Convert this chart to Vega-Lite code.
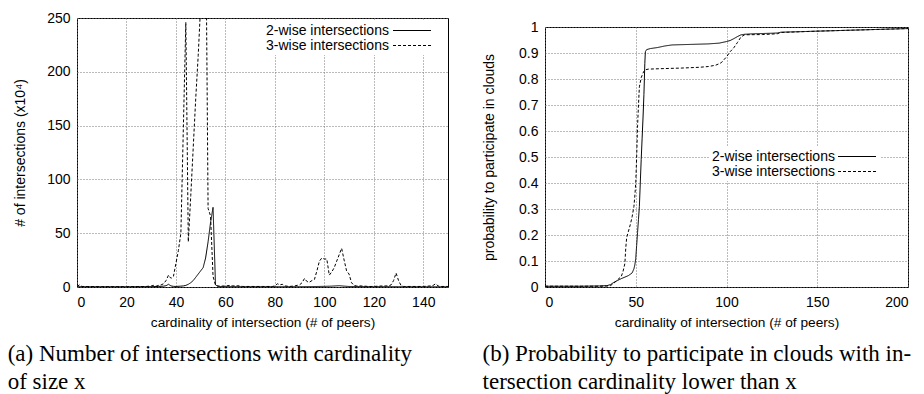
{
  "$schema": "https://vega.github.io/schema/vega-lite/v6.json",
  "background": "white",
  "padding": {"left": 7, "top": 10, "right": 0, "bottom": 0},
  "spacing": 33,
  "resolve": {"scale": {"strokeDash": "independent"}, "legend": {"strokeDash": "independent"}},
  "config": {
    "view": {"stroke": "black", "strokeWidth": 1},
    "font": "Liberation Sans",
    "axis": {
      "domain": false, "ticks": false, "tickSize": 0,
      "labelFont": "Liberation Sans", "labelFontSize": 14, "labelColor": "black",
      "titleFont": "Liberation Sans", "titleFontWeight": "normal", "titleColor": "black",
      "grid": true, "gridColor": "#777777", "gridDash": [1, 2], "gridWidth": 1, "gridOpacity": 1
    },
    "axisX": {"labelPadding": 8, "titleFontSize": 13.7, "titlePadding": 6},
    "axisY": {"labelPadding": 7, "titleFontSize": 14},
    "legend": {"title": null, "orient": "none", "labelOffset": -153.5, "symbolOffset": 138.5, "symbolSize": 196, "symbolType": "M-2.714,0H2.714", "symbolStrokeWidth": 1, "symbolStrokeColor": "black", "symbolFillColor": "transparent", "labelFontSize": 14, "labelFont": "Liberation Sans", "labelColor": "black", "fillColor": "white", "padding": 2, "rowPadding": -2, "labelLimit": 300},
    "title": {"font": "Liberation Serif", "fontSize": 23, "fontWeight": "normal", "color": "black", "lineHeight": 28}
  },
  "datasets": {
    "left": [
      {"x": 0, "v": 0.2, "s": "2-wise intersections"},
      {"x": 10, "v": 0.2, "s": "2-wise intersections"},
      {"x": 20, "v": 0.2, "s": "2-wise intersections"},
      {"x": 30, "v": 0.3, "s": "2-wise intersections"},
      {"x": 33, "v": 0.5, "s": "2-wise intersections"},
      {"x": 35, "v": 0.8, "s": "2-wise intersections"},
      {"x": 36, "v": 1.2, "s": "2-wise intersections"},
      {"x": 37, "v": 2.5, "s": "2-wise intersections"},
      {"x": 38, "v": 1.0, "s": "2-wise intersections"},
      {"x": 39, "v": 0.6, "s": "2-wise intersections"},
      {"x": 40, "v": 0.5, "s": "2-wise intersections"},
      {"x": 42, "v": 0.8, "s": "2-wise intersections"},
      {"x": 43, "v": 1.0, "s": "2-wise intersections"},
      {"x": 44, "v": 1.5, "s": "2-wise intersections"},
      {"x": 45, "v": 2.5, "s": "2-wise intersections"},
      {"x": 46, "v": 4, "s": "2-wise intersections"},
      {"x": 47, "v": 6, "s": "2-wise intersections"},
      {"x": 48, "v": 9, "s": "2-wise intersections"},
      {"x": 49, "v": 12, "s": "2-wise intersections"},
      {"x": 50, "v": 15, "s": "2-wise intersections"},
      {"x": 51, "v": 18, "s": "2-wise intersections"},
      {"x": 52, "v": 27, "s": "2-wise intersections"},
      {"x": 53, "v": 42, "s": "2-wise intersections"},
      {"x": 54, "v": 60, "s": "2-wise intersections"},
      {"x": 55, "v": 74, "s": "2-wise intersections"},
      {"x": 56, "v": 2, "s": "2-wise intersections"},
      {"x": 57, "v": 0.5, "s": "2-wise intersections"},
      {"x": 60, "v": 0.4, "s": "2-wise intersections"},
      {"x": 70, "v": 0.3, "s": "2-wise intersections"},
      {"x": 80, "v": 0.3, "s": "2-wise intersections"},
      {"x": 90, "v": 0.3, "s": "2-wise intersections"},
      {"x": 95, "v": 0.4, "s": "2-wise intersections"},
      {"x": 100, "v": 0.6, "s": "2-wise intersections"},
      {"x": 103, "v": 0.8, "s": "2-wise intersections"},
      {"x": 106, "v": 1.2, "s": "2-wise intersections"},
      {"x": 108, "v": 0.8, "s": "2-wise intersections"},
      {"x": 110, "v": 0.5, "s": "2-wise intersections"},
      {"x": 120, "v": 0.3, "s": "2-wise intersections"},
      {"x": 130, "v": 0.3, "s": "2-wise intersections"},
      {"x": 140, "v": 0.2, "s": "2-wise intersections"},
      {"x": 150, "v": 0.2, "s": "2-wise intersections"},
      {"x": 0, "v": 0.5, "s": "3-wise intersections"},
      {"x": 1, "v": 2, "s": "3-wise intersections"},
      {"x": 2, "v": 0.5, "s": "3-wise intersections"},
      {"x": 10, "v": 0.3, "s": "3-wise intersections"},
      {"x": 20, "v": 0.3, "s": "3-wise intersections"},
      {"x": 28, "v": 0.5, "s": "3-wise intersections"},
      {"x": 30, "v": 1, "s": "3-wise intersections"},
      {"x": 31, "v": 1.5, "s": "3-wise intersections"},
      {"x": 32, "v": 0.8, "s": "3-wise intersections"},
      {"x": 33, "v": 1.5, "s": "3-wise intersections"},
      {"x": 34, "v": 2, "s": "3-wise intersections"},
      {"x": 35, "v": 3, "s": "3-wise intersections"},
      {"x": 36, "v": 6, "s": "3-wise intersections"},
      {"x": 37, "v": 11, "s": "3-wise intersections"},
      {"x": 38, "v": 8, "s": "3-wise intersections"},
      {"x": 39, "v": 10, "s": "3-wise intersections"},
      {"x": 40, "v": 22, "s": "3-wise intersections"},
      {"x": 41, "v": 34, "s": "3-wise intersections"},
      {"x": 42, "v": 50, "s": "3-wise intersections"},
      {"x": 43, "v": 148, "s": "3-wise intersections"},
      {"x": 44, "v": 246, "s": "3-wise intersections"},
      {"x": 45, "v": 42, "s": "3-wise intersections"},
      {"x": 46, "v": 85, "s": "3-wise intersections"},
      {"x": 47, "v": 130, "s": "3-wise intersections"},
      {"x": 48, "v": 175, "s": "3-wise intersections"},
      {"x": 49, "v": 215, "s": "3-wise intersections"},
      {"x": 50, "v": 262, "s": "3-wise intersections"},
      {"x": 51, "v": 330, "s": "3-wise intersections"},
      {"x": 52, "v": 360, "s": "3-wise intersections"},
      {"x": 53, "v": 73, "s": "3-wise intersections"},
      {"x": 54, "v": 66, "s": "3-wise intersections"},
      {"x": 55, "v": 10, "s": "3-wise intersections"},
      {"x": 56, "v": 1.5, "s": "3-wise intersections"},
      {"x": 57, "v": 1, "s": "3-wise intersections"},
      {"x": 58, "v": 0.8, "s": "3-wise intersections"},
      {"x": 60, "v": 1, "s": "3-wise intersections"},
      {"x": 62, "v": 1.5, "s": "3-wise intersections"},
      {"x": 63, "v": 1, "s": "3-wise intersections"},
      {"x": 65, "v": 1.2, "s": "3-wise intersections"},
      {"x": 67, "v": 0.5, "s": "3-wise intersections"},
      {"x": 75, "v": 0.5, "s": "3-wise intersections"},
      {"x": 79, "v": 0.5, "s": "3-wise intersections"},
      {"x": 80, "v": 1, "s": "3-wise intersections"},
      {"x": 81, "v": 3, "s": "3-wise intersections"},
      {"x": 82, "v": 2, "s": "3-wise intersections"},
      {"x": 83, "v": 2.5, "s": "3-wise intersections"},
      {"x": 84, "v": 1, "s": "3-wise intersections"},
      {"x": 86, "v": 0.5, "s": "3-wise intersections"},
      {"x": 88, "v": 1, "s": "3-wise intersections"},
      {"x": 89, "v": 1.5, "s": "3-wise intersections"},
      {"x": 90, "v": 2, "s": "3-wise intersections"},
      {"x": 91, "v": 4, "s": "3-wise intersections"},
      {"x": 92, "v": 8, "s": "3-wise intersections"},
      {"x": 93, "v": 5, "s": "3-wise intersections"},
      {"x": 94, "v": 4.5, "s": "3-wise intersections"},
      {"x": 95, "v": 6, "s": "3-wise intersections"},
      {"x": 96, "v": 7, "s": "3-wise intersections"},
      {"x": 97, "v": 15, "s": "3-wise intersections"},
      {"x": 98, "v": 24, "s": "3-wise intersections"},
      {"x": 99, "v": 27, "s": "3-wise intersections"},
      {"x": 100, "v": 26, "s": "3-wise intersections"},
      {"x": 101, "v": 26, "s": "3-wise intersections"},
      {"x": 102, "v": 11, "s": "3-wise intersections"},
      {"x": 103, "v": 14, "s": "3-wise intersections"},
      {"x": 104, "v": 18, "s": "3-wise intersections"},
      {"x": 105, "v": 24, "s": "3-wise intersections"},
      {"x": 106, "v": 30, "s": "3-wise intersections"},
      {"x": 107, "v": 36, "s": "3-wise intersections"},
      {"x": 108, "v": 25, "s": "3-wise intersections"},
      {"x": 109, "v": 15, "s": "3-wise intersections"},
      {"x": 110, "v": 12, "s": "3-wise intersections"},
      {"x": 111, "v": 4, "s": "3-wise intersections"},
      {"x": 112, "v": 1.5, "s": "3-wise intersections"},
      {"x": 113, "v": 1, "s": "3-wise intersections"},
      {"x": 115, "v": 1, "s": "3-wise intersections"},
      {"x": 118, "v": 0.5, "s": "3-wise intersections"},
      {"x": 120, "v": 0.5, "s": "3-wise intersections"},
      {"x": 122, "v": 0.8, "s": "3-wise intersections"},
      {"x": 124, "v": 1, "s": "3-wise intersections"},
      {"x": 126, "v": 1, "s": "3-wise intersections"},
      {"x": 127, "v": 2, "s": "3-wise intersections"},
      {"x": 128, "v": 6, "s": "3-wise intersections"},
      {"x": 129, "v": 13, "s": "3-wise intersections"},
      {"x": 130, "v": 6, "s": "3-wise intersections"},
      {"x": 131, "v": 1.5, "s": "3-wise intersections"},
      {"x": 132, "v": 0.5, "s": "3-wise intersections"},
      {"x": 140, "v": 0.5, "s": "3-wise intersections"},
      {"x": 143, "v": 1, "s": "3-wise intersections"},
      {"x": 144, "v": 1.5, "s": "3-wise intersections"},
      {"x": 145, "v": 3, "s": "3-wise intersections"},
      {"x": 146, "v": 1, "s": "3-wise intersections"},
      {"x": 147, "v": 0.5, "s": "3-wise intersections"},
      {"x": 150, "v": 0.5, "s": "3-wise intersections"}
    ],
    "right": [
      {"x": 0, "v": 0.003, "s": "2-wise intersections"},
      {"x": 10, "v": 0.003, "s": "2-wise intersections"},
      {"x": 20, "v": 0.003, "s": "2-wise intersections"},
      {"x": 30, "v": 0.004, "s": "2-wise intersections"},
      {"x": 34, "v": 0.005, "s": "2-wise intersections"},
      {"x": 36, "v": 0.009, "s": "2-wise intersections"},
      {"x": 38, "v": 0.018, "s": "2-wise intersections"},
      {"x": 40, "v": 0.025, "s": "2-wise intersections"},
      {"x": 42, "v": 0.032, "s": "2-wise intersections"},
      {"x": 44, "v": 0.038, "s": "2-wise intersections"},
      {"x": 46, "v": 0.044, "s": "2-wise intersections"},
      {"x": 48, "v": 0.054, "s": "2-wise intersections"},
      {"x": 49, "v": 0.07, "s": "2-wise intersections"},
      {"x": 49.5, "v": 0.085, "s": "2-wise intersections"},
      {"x": 50, "v": 0.11, "s": "2-wise intersections"},
      {"x": 50.5, "v": 0.16, "s": "2-wise intersections"},
      {"x": 51, "v": 0.21, "s": "2-wise intersections"},
      {"x": 51.5, "v": 0.26, "s": "2-wise intersections"},
      {"x": 52, "v": 0.31, "s": "2-wise intersections"},
      {"x": 52.5, "v": 0.4, "s": "2-wise intersections"},
      {"x": 53, "v": 0.49, "s": "2-wise intersections"},
      {"x": 53.5, "v": 0.57, "s": "2-wise intersections"},
      {"x": 54, "v": 0.65, "s": "2-wise intersections"},
      {"x": 54.5, "v": 0.74, "s": "2-wise intersections"},
      {"x": 55, "v": 0.86, "s": "2-wise intersections"},
      {"x": 55.3, "v": 0.905, "s": "2-wise intersections"},
      {"x": 56, "v": 0.913, "s": "2-wise intersections"},
      {"x": 58, "v": 0.917, "s": "2-wise intersections"},
      {"x": 62, "v": 0.921, "s": "2-wise intersections"},
      {"x": 66, "v": 0.927, "s": "2-wise intersections"},
      {"x": 70, "v": 0.931, "s": "2-wise intersections"},
      {"x": 80, "v": 0.933, "s": "2-wise intersections"},
      {"x": 90, "v": 0.935, "s": "2-wise intersections"},
      {"x": 96, "v": 0.938, "s": "2-wise intersections"},
      {"x": 100, "v": 0.944, "s": "2-wise intersections"},
      {"x": 102, "v": 0.948, "s": "2-wise intersections"},
      {"x": 104, "v": 0.955, "s": "2-wise intersections"},
      {"x": 106, "v": 0.963, "s": "2-wise intersections"},
      {"x": 108, "v": 0.97, "s": "2-wise intersections"},
      {"x": 110, "v": 0.972, "s": "2-wise intersections"},
      {"x": 115, "v": 0.974, "s": "2-wise intersections"},
      {"x": 125, "v": 0.976, "s": "2-wise intersections"},
      {"x": 128, "v": 0.977, "s": "2-wise intersections"},
      {"x": 130, "v": 0.98, "s": "2-wise intersections"},
      {"x": 140, "v": 0.982, "s": "2-wise intersections"},
      {"x": 150, "v": 0.984, "s": "2-wise intersections"},
      {"x": 160, "v": 0.986, "s": "2-wise intersections"},
      {"x": 170, "v": 0.988, "s": "2-wise intersections"},
      {"x": 180, "v": 0.99, "s": "2-wise intersections"},
      {"x": 190, "v": 0.992, "s": "2-wise intersections"},
      {"x": 200, "v": 0.994, "s": "2-wise intersections"},
      {"x": 0, "v": 0.003, "s": "3-wise intersections"},
      {"x": 30, "v": 0.003, "s": "3-wise intersections"},
      {"x": 35, "v": 0.004, "s": "3-wise intersections"},
      {"x": 36, "v": 0.005, "s": "3-wise intersections"},
      {"x": 38, "v": 0.015, "s": "3-wise intersections"},
      {"x": 40, "v": 0.028, "s": "3-wise intersections"},
      {"x": 42, "v": 0.04, "s": "3-wise intersections"},
      {"x": 43, "v": 0.06, "s": "3-wise intersections"},
      {"x": 44, "v": 0.09, "s": "3-wise intersections"},
      {"x": 44.5, "v": 0.15, "s": "3-wise intersections"},
      {"x": 45, "v": 0.19, "s": "3-wise intersections"},
      {"x": 46, "v": 0.215, "s": "3-wise intersections"},
      {"x": 47, "v": 0.24, "s": "3-wise intersections"},
      {"x": 48, "v": 0.27, "s": "3-wise intersections"},
      {"x": 49, "v": 0.31, "s": "3-wise intersections"},
      {"x": 49.5, "v": 0.35, "s": "3-wise intersections"},
      {"x": 50, "v": 0.4, "s": "3-wise intersections"},
      {"x": 50.5, "v": 0.5, "s": "3-wise intersections"},
      {"x": 51, "v": 0.62, "s": "3-wise intersections"},
      {"x": 51.5, "v": 0.7, "s": "3-wise intersections"},
      {"x": 52, "v": 0.77, "s": "3-wise intersections"},
      {"x": 53, "v": 0.805, "s": "3-wise intersections"},
      {"x": 54, "v": 0.823, "s": "3-wise intersections"},
      {"x": 55, "v": 0.835, "s": "3-wise intersections"},
      {"x": 57, "v": 0.838, "s": "3-wise intersections"},
      {"x": 65, "v": 0.84, "s": "3-wise intersections"},
      {"x": 75, "v": 0.842, "s": "3-wise intersections"},
      {"x": 85, "v": 0.845, "s": "3-wise intersections"},
      {"x": 90, "v": 0.848, "s": "3-wise intersections"},
      {"x": 94, "v": 0.853, "s": "3-wise intersections"},
      {"x": 97, "v": 0.862, "s": "3-wise intersections"},
      {"x": 100, "v": 0.885, "s": "3-wise intersections"},
      {"x": 102, "v": 0.905, "s": "3-wise intersections"},
      {"x": 104, "v": 0.92, "s": "3-wise intersections"},
      {"x": 106, "v": 0.94, "s": "3-wise intersections"},
      {"x": 108, "v": 0.962, "s": "3-wise intersections"},
      {"x": 110, "v": 0.97, "s": "3-wise intersections"},
      {"x": 120, "v": 0.971, "s": "3-wise intersections"},
      {"x": 128, "v": 0.974, "s": "3-wise intersections"},
      {"x": 130, "v": 0.979, "s": "3-wise intersections"},
      {"x": 150, "v": 0.984, "s": "3-wise intersections"},
      {"x": 170, "v": 0.988, "s": "3-wise intersections"},
      {"x": 200, "v": 0.994, "s": "3-wise intersections"}
    ]
  },
  "hconcat": [
    {
      "width": 371,
      "height": 269,
      "data": {"name": "left"},
      "title": {"text": ["(a) Number of intersections with cardinality", "of size x"], "orient": "bottom", "anchor": "start", "frame": "bounds", "offset": 14, "dx": -6},
      "mark": {"type": "line", "clip": true, "strokeWidth": 1, "color": "black"},
      "encoding": {
        "x": {"field": "x", "type": "quantitative", "scale": {"domain": [0, 150], "nice": false},
              "axis": {"values": [0, 20, 40, 60, 80, 100, 120, 140], "title": "cardinality of intersection (# of peers)"}},
        "y": {"field": "v", "type": "quantitative", "scale": {"domain": [0, 250], "nice": false},
              "axis": {"values": [0, 50, 100, 150, 200, 250], "title": "# of intersections (x10⁴)", "titlePadding": 19}},
        "strokeDash": {"field": "s", "type": "nominal",
          "scale": {"domain": ["2-wise intersections", "3-wise intersections"], "range": [[1, 0], [3, 2]]},
          "legend": {"legendX": 187, "legendY": 3}}
      }
    },
    {
      "spacing": 0,
      "resolve": {"scale": {"strokeDash": "independent"}, "legend": {"strokeDash": "independent"}},
      "vconcat": [
        {
          "width": 363,
          "height": 1,
          "data": {"values": [{}]},
          "view": {"stroke": null},
          "mark": {"type": "rule", "opacity": 0},
          "encoding": {}
        },
        {
          "width": 363,
          "height": 260,
          "data": {"name": "right"},
          "title": {"text": ["(b) Probability to participate in clouds with in-", "tersection cardinality lower than x"], "orient": "bottom", "anchor": "start", "frame": "bounds", "offset": 14},
          "mark": {"type": "line", "clip": true, "strokeWidth": 1, "color": "black"},
          "encoding": {
            "x": {"field": "x", "type": "quantitative", "scale": {"domain": [0, 200], "nice": false},
                  "axis": {"values": [0, 50, 100, 150, 200], "title": "cardinality of intersection (# of peers)"}},
            "y": {"field": "v", "type": "quantitative", "scale": {"domain": [0, 1], "nice": false},
                  "axis": {"values": [0, 0.1, 0.2, 0.3, 0.4, 0.5, 0.6, 0.7, 0.8, 0.9, 1], "format": "~g", "title": "probability to participate in clouds", "titlePadding": 22}},
            "strokeDash": {"field": "s", "type": "nominal",
              "scale": {"domain": ["2-wise intersections", "3-wise intersections"], "range": [[1, 0], [3, 2]]},
              "legend": {"legendX": 165, "legendY": 120, "rowPadding": 0, "symbolOffset": 137.5, "labelOffset": -152.5}}
          }
        }
      ]
    }
  ]
}
